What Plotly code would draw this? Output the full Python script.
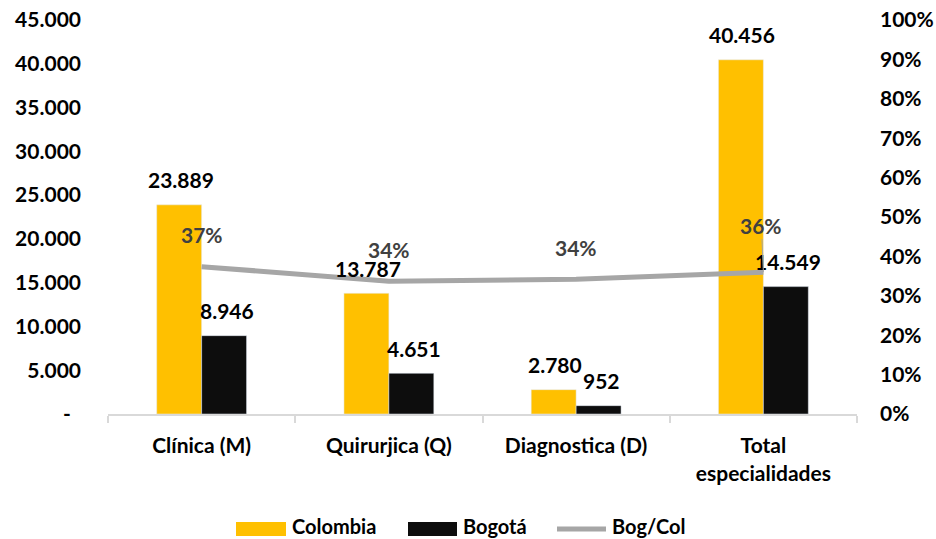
import plotly.graph_objects as go

categories = ["Clínica (M)", "Quirurjica (Q)", "Diagnostica (D)", "Total<br>especialidades"]
colombia = [23889, 13787, 2780, 40456]
bogota = [8946, 4651, 952, 14549]
bog_col = [0.374, 0.337, 0.342, 0.360]

colombia_labels = ["23.889", "13.787", "2.780", "40.456"]
bogota_labels = ["8.946", "4.651", "952", "14.549"]
ratio_labels = ["37%", "34%", "34%", "36%"]

left_ticks = [0, 5000, 10000, 15000, 20000, 25000, 30000, 35000, 40000, 45000]
left_ticktext = ["-\u00a0\u00a0", "5.000", "10.000", "15.000", "20.000", "25.000", "30.000", "35.000", "40.000", "45.000"]
right_ticks = [0, 0.1, 0.2, 0.3, 0.4, 0.5, 0.6, 0.7, 0.8, 0.9, 1.0]
right_ticktext = ["0%", "10%", "20%", "30%", "40%", "50%", "60%", "70%", "80%", "90%", "100%"]

FONT = "Lato"
FS = 21
GOLD = "#FFC000"
BLACK = "#0D0D0D"
GRAY = "#A6A6A6"

W, H = 936, 539
ML, MR, MT, MB = 108, 79, 20, 125
PW = W - ML - MR
PH = H - MT - MB


def px_x(px):
    return (px - ML) / PW


def px_y(py):
    return (H - MB - py) / PH


def bold(color="#000000", size=FS):
    return dict(family=FONT, size=size, color=color, weight="bold")


fig = go.Figure()
fig.add_trace(go.Bar(name="Colombia", x=categories, y=colombia, marker_color=GOLD, yaxis="y",
                     showlegend=False))
fig.add_trace(go.Bar(name="Bogotá", x=categories, y=bogota, marker_color=BLACK, yaxis="y",
                     showlegend=False))
fig.add_trace(go.Scatter(name="Bog/Col", x=categories, y=bog_col, mode="lines",
                         line=dict(color=GRAY, width=5), yaxis="y2", showlegend=False))

ann = []
for c, v, t in zip(categories, colombia, colombia_labels):
    ann.append(dict(x=c, y=v, xref="x", yref="y", text=t, showarrow=False,
                    xshift=-21, yshift=25, yanchor="middle", font=bold()))
for c, v, t in zip(categories, bogota, bogota_labels):
    ann.append(dict(x=c, y=v, xref="x", yref="y", text=t, showarrow=False,
                    xshift=25, yshift=25, yanchor="middle", font=bold()))
for i, (c, v, t) in enumerate(zip(categories, bog_col, ratio_labels)):
    if i < 3:
        ann.append(dict(x=c, y=v, xref="x", yref="y2", text=t, showarrow=False,
                        yshift=32, yanchor="middle", font=bold("#404040")))
    else:
        ann.append(dict(x=c, y=v, xref="x", yref="y2", text=t, showarrow=True,
                        arrowhead=0, arrowwidth=1, arrowcolor=GRAY, ax=-2, ay=-47,
                        yanchor="middle", font=bold("#404040")))

# custom legend (swatches + labels), positioned in paper coordinates
shapes = [
    dict(type="rect", xref="paper", yref="paper", x0=px_x(236), x1=px_x(286),
         y0=px_y(536), y1=px_y(522), fillcolor=GOLD, line=dict(width=0)),
    dict(type="rect", xref="paper", yref="paper", x0=px_x(408), x1=px_x(457),
         y0=px_y(536), y1=px_y(522), fillcolor=BLACK, line=dict(width=0)),
    dict(type="line", xref="paper", yref="paper", x0=px_x(557), x1=px_x(606),
         y0=px_y(529), y1=px_y(529), line=dict(color=GRAY, width=5)),
]
for xpx, t in [(291, "Colombia"), (462, "Bogotá"), (611, "Bog/Col")]:
    ann.append(dict(x=px_x(xpx), y=px_y(526), xref="paper", yref="paper", text=t,
                    showarrow=False, xanchor="left", yanchor="middle", font=bold(size=20),
                    borderpad=0))

fig.update_layout(
    width=W, height=H,
    margin=dict(l=ML, r=MR, t=MT, b=MB, autoexpand=False),
    paper_bgcolor="white", plot_bgcolor="white",
    barmode="group", bargap=0.52, bargroupgap=0,
    font=bold(),
    xaxis=dict(showline=True, linecolor="#D9D9D9", linewidth=2, automargin=False,
               ticks="outside", tickson="boundaries", ticklen=7, tickcolor="#D9D9D9", tickwidth=2,
               ticklabelstandoff=12, showgrid=False, tickfont=bold()),
    yaxis=dict(range=[0, 45000], tickvals=left_ticks, ticktext=left_ticktext, automargin=False,
               showgrid=False, zeroline=False, showline=False, ticks="",
               ticklabelstandoff=26, tickfont=bold()),
    yaxis2=dict(range=[0, 1], tickvals=right_ticks, ticktext=right_ticktext, automargin=False,
                overlaying="y", side="right", showgrid=False, zeroline=False, showline=False,
                ticks="", ticklabelstandoff=22, tickfont=bold()),
    annotations=ann,
    shapes=shapes,
    showlegend=False,
)

fig.write_html(
    "out.html",
    config={"displayModeBar": False},
    post_script="document.body.style.margin='0';document.body.style.overflow='hidden';",
)
